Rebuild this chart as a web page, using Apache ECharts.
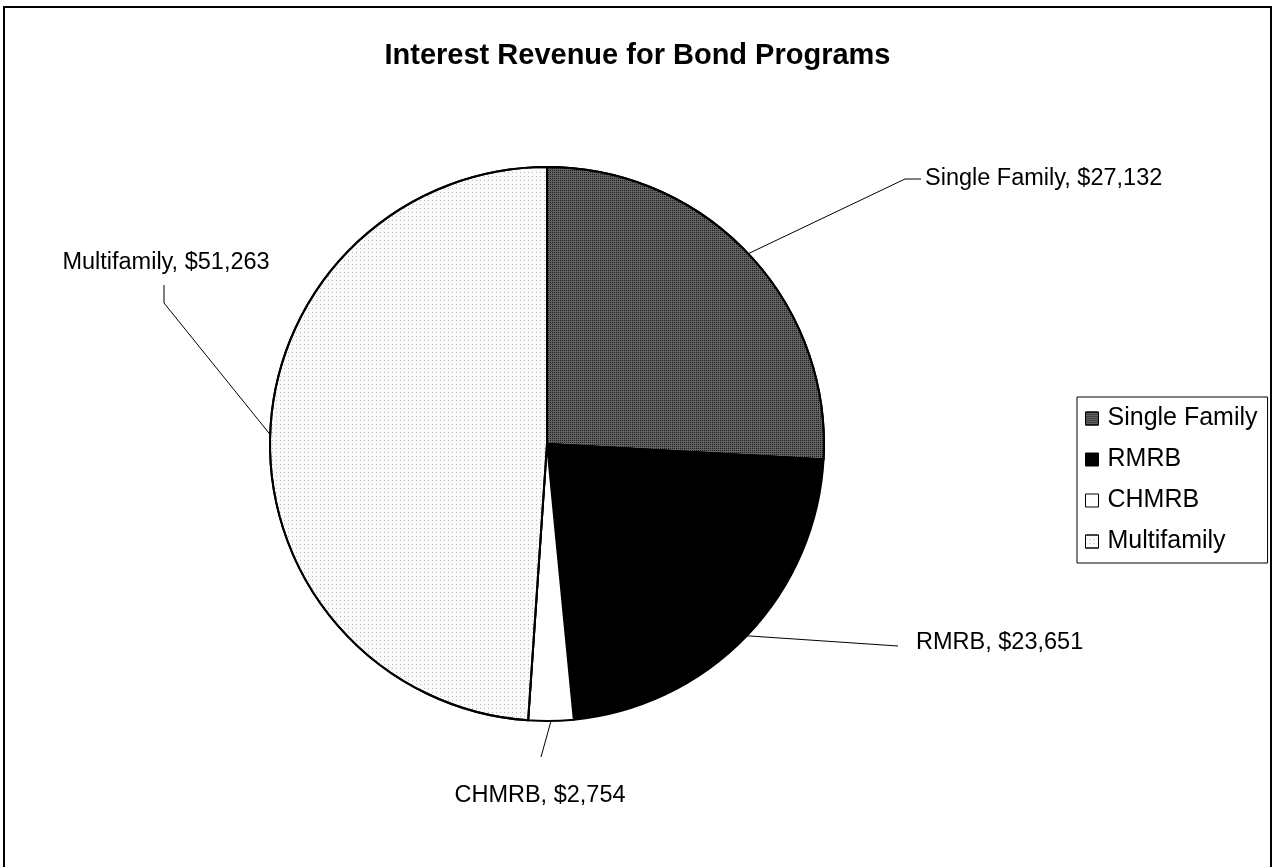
<!DOCTYPE html>
<html><head><meta charset="utf-8">
<script src="https://cdn.jsdelivr.net/npm/echarts@6/dist/echarts.min.js"></script>
<style>html,body{margin:0;padding:0;background:#fff}#c{width:1275px;height:867px}</style>
</head><body><div id="c"></div>
<script>
// ---- data ----
const categories = ['Single Family', 'RMRB', 'CHMRB', 'Multifamily'];
const values = [27132, 23651, 2754, 51263];
const titleText = 'Interest Revenue for Bond Programs';

// ---- styles ----
const sliceColors = ['#626262', '#000000', '#ffffff', '#fafafa'];
const sliceDecals = [
  { symbol: 'rect', symbolSize: 1, color: '#1c1c1c', dashArrayX: [1, 1], dashArrayY: [1, 1] },
  null,
  null,
  { symbol: 'rect', symbolSize: 1, color: '#b8b8b8', dashArrayX: [1, 3], dashArrayY: [1, 3] }
];
const FONT = '"Liberation Sans", Arial, sans-serif';
// label text anchor and leader-line bends (pixels)
const labelPlace = {
  'Single Family': { x: 925, y: 179, align: 'left',   bends: [[905, 179], [921, 179]] },
  'RMRB':          { x: 916, y: 643, align: 'left',   bends: [[898, 646]] },
  'CHMRB':         { x: 540, y: 796, align: 'center', bends: [[541, 757]] },
  'Multifamily':   { x: 166, y: 263, align: 'center', bends: [[164, 303], [164, 285]] }
};

const chart = echarts.init(document.getElementById('c'), null, { renderer: 'canvas' });
chart.setOption({
  backgroundColor: '#ffffff',
  animation: false,
  title: {
    text: titleText,
    left: 'center',
    top: 36,
    textStyle: { fontFamily: FONT, fontWeight: 'bold', fontSize: 29, color: '#000' }
  },
  graphic: [{
    type: 'rect', silent: true,
    shape: { x: 4, y: 7, width: 1267, height: 880 },
    style: { fill: 'none', stroke: '#000', lineWidth: 2 }
  }],
  legend: {
    orient: 'vertical',
    left: 1077, top: 397,
    padding: [9, 10, 9, 8],
    borderColor: '#000', borderWidth: 1,
    itemWidth: 13, itemHeight: 13, itemGap: 16,
    icon: 'rect',
    itemStyle: { borderColor: '#000', borderWidth: 1 },
    textStyle: { fontFamily: FONT, fontSize: 25, color: '#000', padding: [0, 0, 0, 4] },
    data: categories
  },
  series: [{
    type: 'pie',
    center: [547, 444],
    radius: 277,
    startAngle: 90,
    clockwise: true,
    itemStyle: { borderColor: '#000', borderWidth: 2 },
    label: {
      show: true, position: 'outside',
      fontFamily: FONT, fontSize: 23.5, color: '#000',
      formatter: p => p.name + ', $' + p.value.toLocaleString('en-US')
    },
    labelLine: { show: true, lineStyle: { color: '#000', width: 1 } },
    labelLayout: function (params) {
      const name = categories[params.dataIndex];
      const pl = labelPlace[name];
      const edge = params.labelLinePoints ? params.labelLinePoints[0] : pl.bends[0];
      return {
        x: pl.x, y: pl.y, align: pl.align, verticalAlign: 'middle',
        labelLinePoints: [edge].concat(pl.bends)
      };
    },
    data: categories.map((c, i) => {
      const style = { color: sliceColors[i] };
      if (sliceDecals[i]) style.decal = sliceDecals[i];
      return { name: c, value: values[i], itemStyle: style };
    })
  }]
});
</script>
</body></html>
